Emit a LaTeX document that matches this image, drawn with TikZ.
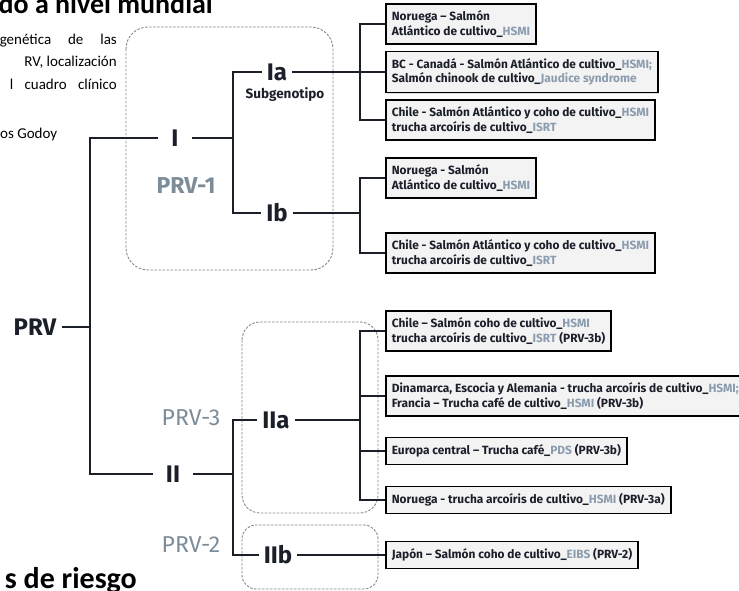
\documentclass[tikz,border=0pt]{standalone}
\usepackage{fontspec}
\setmainfont{Carlito}
\newfontfamily\fira{Fira Sans}
\usetikzlibrary{calc,shadows}
\definecolor{tinta}{HTML}{1B1F2A}
\definecolor{sigla}{HTML}{8B9CAF}
\definecolor{genogris}{HTML}{7D8C99}
\definecolor{rayas}{HTML}{858585}
\definecolor{fondo}{HTML}{F3F3F3}
\newcommand{\sig}[1]{\textcolor{sigla}{#1}}

\begin{document}
\begin{tikzpicture}[x=1pt,y=-1pt,
    rama/.style={line width=1.3pt, draw=tinta},
    grupo/.style={draw=rayas, dash pattern=on 2.5pt off 1.5pt, line width=0.9pt, rounded corners=22pt},
    caja/.style={draw=black, line width=1.7pt, fill=fondo, anchor=west, align=left,
        inner xsep=6pt, inner ysep=7pt, text=tinta, font=\fira\bfseries\fontsize{11.9}{14.5}\selectfont,
        drop shadow={shadow xshift=1pt, shadow yshift=-1pt, opacity=0.25}},
    nivel/.style={font=\fira\bfseries\fontsize{24}{24}\selectfont, text=tinta, inner ysep=0pt},
    tipo/.style={font=\fira\fontsize{23}{23}\selectfont, text=genogris},
    fondotxt/.style={font=\fontsize{15}{15}\selectfont, anchor=base east, inner sep=0pt}
]
    \useasboundingbox (0,0) rectangle (739,591);

    \node[fondotxt, font=\bfseries\fontsize{28}{28}\selectfont] (titulo) at (213,14) {do a nivel mundial};
    \node[fondotxt] (p1) at (117,45) {\makebox[117pt][s]{genética de las}};
    \node[fondotxt] (p2) at (117,67) {RV, localización};
    \node[fondotxt] (p3) at (117,90) {\makebox[107pt][s]{l cuadro clínico}};
    \node[fondotxt, anchor=base west] (p4) at (0,139) {os Godoy};
    \node[fondotxt, font=\bfseries\fontsize{30}{30}\selectfont] (riesgo) at (137,588) {s de riesgo};

    \draw[grupo] (126,27) rectangle (333,270);
    \draw[grupo, rounded corners=18pt] (242,322) rectangle (378,513);
    \draw[grupo, rounded corners=14pt] (242,525) rectangle (378,589);

    \node[nivel, inner xsep=5pt] (PRV) at (35,327) {PRV};
    \node[nivel, inner xsep=13pt] (I) at (175,138) {I};
    \node[nivel, inner xsep=13pt] (II) at (173,474) {II};
    \node[nivel, inner xsep=5pt] (Ia) at (277,72) {Ia};
    \node[nivel, inner xsep=5pt] (Ib) at (277,213) {Ib};
    \node[nivel, inner xsep=5pt] (IIa) at (276,420) {IIa};
    \node[nivel, inner xsep=5pt] (IIb) at (278,555) {IIb};

    \node[font=\fira\bfseries\fontsize{13.5}{13.5}\selectfont, text=tinta] (subg) at (285,95) {Subgenotipo};
    \node[tipo, font=\fira\bfseries\fontsize{23}{23}\selectfont] (prv1) at (186,186) {PRV-1};
    \node[tipo] (prv3) at (191,418) {PRV-3};
    \node[tipo] (prv2) at (191,545) {PRV-2};

    \node[caja] (c1) at (385,24) {Noruega – Salmón\\Atlántico de cultivo\_\sig{HSMI}};
    \node[caja] (c2) at (385,72) {BC - Canadá - Salmón Atlántico de cultivo\_\sig{HSMI;}\\Salmón chinook de cultivo\_\sig{Jaudice syndrome}};
    \node[caja] (c3) at (385,120) {Chile - Salmón Atlántico y coho de cultivo\_\sig{HSMI}\\trucha arcoíris de cultivo\_\sig{ISRT}};
    \node[caja] (c4) at (385,178) {Noruega - Salmón\\Atlántico de cultivo\_\sig{HSMI}};
    \node[caja] (c5) at (385,253) {Chile - Salmón Atlántico y coho de cultivo\_\sig{HSMI}\\trucha arcoíris de cultivo\_\sig{ISRT}};
    \node[caja] (c6) at (385,331) {Chile – Salmón coho de cultivo\_\sig{HSMI}\\trucha arcoíris de cultivo\_\sig{ISRT} (PRV-3b)};
    \node[caja] (c7) at (385,396) {Dinamarca, Escocia y Alemania - trucha arcoíris de cultivo\_\sig{HSMI;}\\Francia – Trucha café de cultivo\_\sig{HSMI} (PRV-3b)};
    \node[caja] (c8) at (385,451) {Europa central – Trucha café\_\sig{PDS} (PRV-3b)};
    \node[caja] (c9) at (385,500) {Noruega - trucha arcoíris de cultivo\_\sig{HSMI} (PRV-3a)};
    \node[caja] (c10) at (385,555) {Japón – Salmón coho de cultivo\_\sig{EIBS} (PRV-2)};

    \coordinate (jP) at (90,327);
    \coordinate (jI) at (233,138);
    \coordinate (jII) at (233,474);
    \coordinate (ja) at (360,72);
    \coordinate (jb) at (360,213);
    \coordinate (jc) at (360,420);

    \draw[rama] (PRV) -- (jP);
    \draw[rama] (I) -| (jP) |- (II);
    \draw[rama] (I) -- (jI);
    \draw[rama] (Ia) -| (jI) |- (Ib);
    \draw[rama] (II) -- (jII);
    \draw[rama] (IIa) -| (jII) |- (IIb);
    \draw[rama] (c1) -| (ja) |- (c3);
    \draw[rama] (Ia) -- (c2);
    \draw[rama] (c4) -| (jb) |- (c5);
    \draw[rama] (Ib) -- (jb);
    \draw[rama] (c6) -| (jc) |- (c9);
    \draw[rama] (IIa) -- (jc);
    \foreach \c in {c7, c8}
        {
            \draw[rama] (\c.west) -- (\c.west -| jc);
        }
    \draw[rama] (IIb) -- (c10);
\end{tikzpicture}
\end{document}
